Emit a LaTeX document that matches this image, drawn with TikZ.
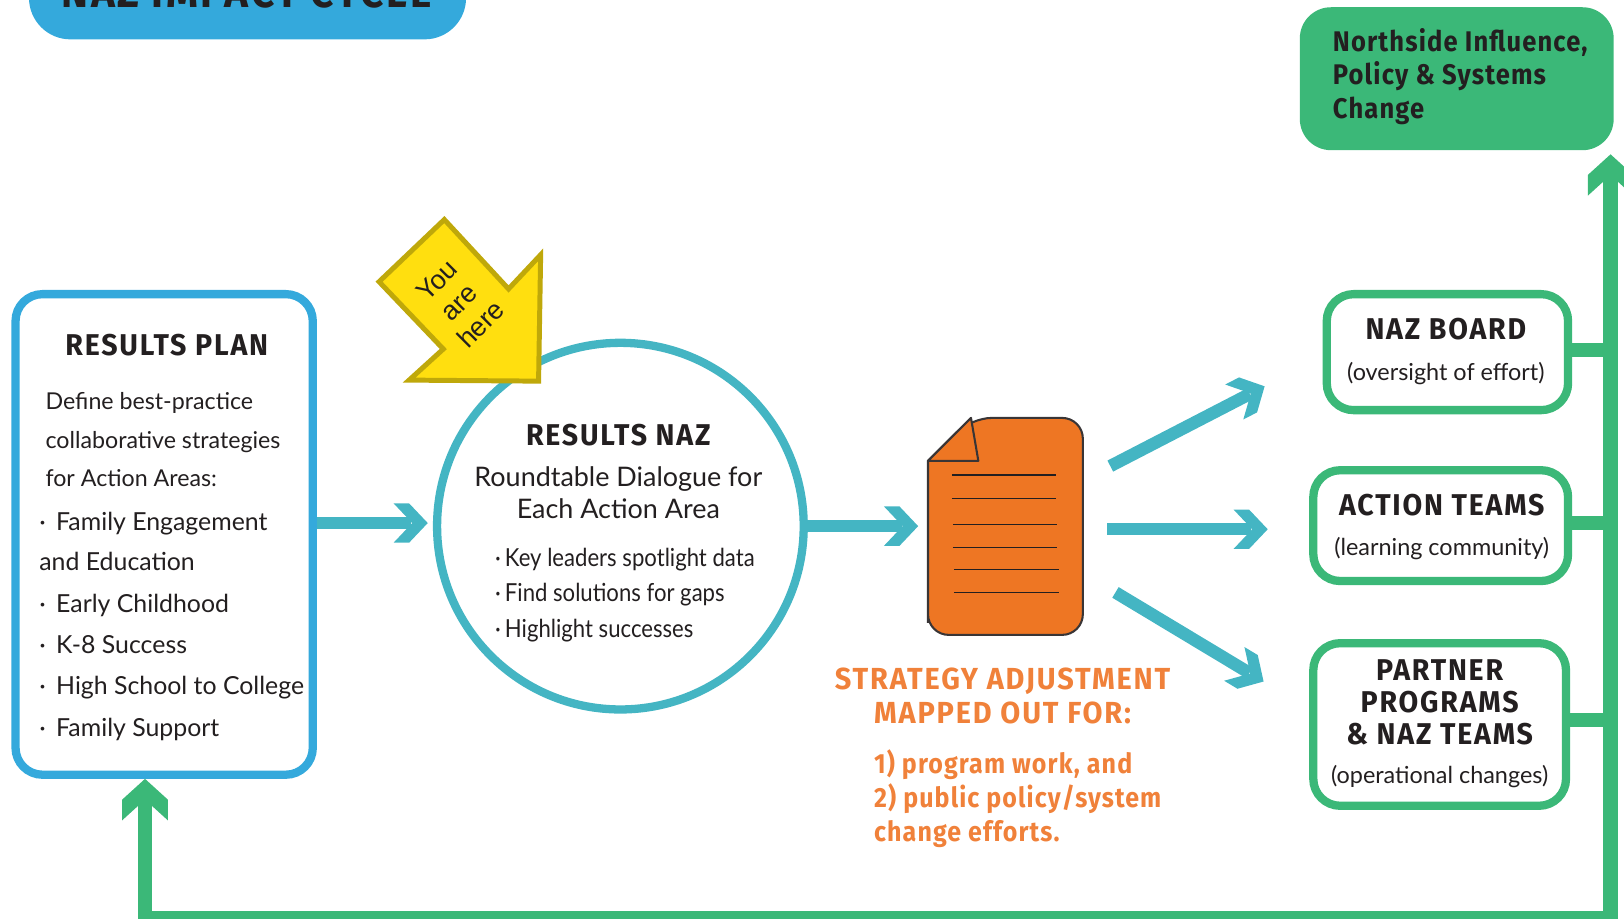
\documentclass[tikz,border=0pt]{standalone}
\usepackage{fontspec}
\setmainfont{Lato}
\newfontfamily\narrowf[FakeStretch=0.89]{Lato}
\newfontfamily\headf[FakeStretch=0.9,LetterSpace=4]{Fira Sans}
\newfontfamily\headw[FakeStretch=0.95,LetterSpace=6]{Fira Sans}
\newfontfamily\youf{Liberation Sans}
\usetikzlibrary{arrows.meta}
\definecolor{planblue}{HTML}{34A9DC}
\definecolor{flowteal}{HTML}{44B5C3}
\definecolor{loopgreen}{HTML}{3BB878}
\definecolor{docorange}{HTML}{EE7623}
\definecolor{txtorange}{HTML}{F0813A}
\definecolor{inkdark}{HTML}{231F20}
\definecolor{sunyellow}{HTML}{FFDF0F}
\definecolor{sunedge}{HTML}{BFA80A}
\pgfdeclarearrow{
  name=ChevT,
  setup code={\pgfarrowssettipend{0pt}\pgfarrowssetlineend{-8pt}\pgfarrowssetbackend{-16.5pt}\pgfarrowssetvisualbackend{-8pt}},
  drawing code={
    \pgfpathmoveto{\pgfpoint{0pt}{0pt}}
    \pgfpathlineto{\pgfpoint{-9pt}{9.5pt}}
    \pgfpathlineto{\pgfpoint{-16.5pt}{9.5pt}}
    \pgfpathlineto{\pgfpoint{-7.5pt}{0pt}}
    \pgfpathlineto{\pgfpoint{-16.5pt}{-9.5pt}}
    \pgfpathlineto{\pgfpoint{-9pt}{-9.5pt}}
    \pgfpathclose\pgfusepathqfill}
}
\pgfdeclarearrow{
  name=ChevG,
  setup code={\pgfarrowssettipend{0pt}\pgfarrowssetlineend{-10pt}\pgfarrowssetbackend{-20pt}\pgfarrowssetvisualbackend{-10pt}},
  drawing code={
    \pgfpathmoveto{\pgfpoint{0pt}{0pt}}
    \pgfpathlineto{\pgfpoint{-10pt}{11pt}}
    \pgfpathlineto{\pgfpoint{-20pt}{11pt}}
    \pgfpathlineto{\pgfpoint{-10pt}{0pt}}
    \pgfpathlineto{\pgfpoint{-20pt}{-11pt}}
    \pgfpathlineto{\pgfpoint{-10pt}{-11pt}}
    \pgfpathclose\pgfusepathqfill}
}
\tikzset{
  x=0.5pt,y=-0.5pt,
  every node/.style={inner sep=0pt,outer sep=0pt,text=inkdark},
  outlinebox/.style={draw=#1,line width=4pt,rounded corners=13pt,fill=white,outer sep=2pt},
  tealflow/.style={color=flowteal,line width=6pt,-ChevT},
  greenline/.style={color=loopgreen,line width=7pt},
  headtxt/.style={font=\headw\bfseries\fontsize{14.5}{15.6}\selectfont,align=center},
  subtxt/.style={font=\fontsize{11.3}{14}\selectfont,align=center,text height=8.5pt,text depth=2.5pt},
  bodytxt/.style={font=\fontsize{12}{15}\selectfont,align=left,text height=8.5pt,text depth=2.5pt},
  nartxt/.style={font=\narrowf\fontsize{12}{15}\selectfont,align=left,text height=8.5pt,text depth=2.5pt},
  orangehead/.style={font=\headw\bfseries\fontsize{14.7}{16}\selectfont,text=txtorange,align=center},
  docline/.style={draw=inkdark,line width=0.6pt},
}
\begin{document}
\begin{tikzpicture}
\useasboundingbox (0,0) rectangle (1568,887.3);
% top cut-off banner
\fill[planblue,rounded corners=20pt] (28,-60) rectangle (450,38);
\node[font=\headw\bfseries\fontsize{20.6}{22}\selectfont] (banner) at (238,-7) {NAZ IMPACT CYCLE};
% Northside box
\node[fill=loopgreen,rounded corners=15pt,minimum width=151.5pt,minimum height=69pt] (north) at (1406.5,76) {};
\node[anchor=west,align=left,font=\headf\bfseries\fontsize{13.7}{16}\selectfont] (northtxt) at (1287,74) {Northside Influence,\\Policy \& Systems\\Change};
% green loop
\coordinate (rightfoot) at (1555,887);
\coordinate (leftfoot) at (140,887);
\coordinate (plantip) at (140,752);
\coordinate (northtip) at (1555,149);
\draw[greenline,{ChevG}-{ChevG}] (plantip) -- (leftfoot) -- (rightfoot) -- (northtip);
% right boxes
\node[outlinebox=loopgreen,minimum width=116.5pt,minimum height=56pt] (board) at (1397.5,340) {};
\node[outlinebox=loopgreen,minimum width=123pt,minimum height=53.5pt] (teams) at (1391,507.5) {};
\node[outlinebox=loopgreen,minimum width=122pt,minimum height=78.5pt] (partner) at (1390,699.5) {};
\draw[greenline] (board.east |- 0,338) -- (rightfoot |- 0,338);
\draw[greenline] (teams.east |- 0,505) -- (rightfoot |- 0,505);
\draw[greenline] (partner.east |- 0,695) -- (rightfoot |- 0,695);
\node[headtxt] (boardh) at (1396,318) {NAZ BOARD};
\node[subtxt] (boards) at (1396,361) {(oversight of effort)};
\node[headtxt] (teamsh) at (1392,488) {ACTION TEAMS};
\node[subtxt] (teamss) at (1392,530) {(learning community)};
\node[headtxt] (partnerh) at (1390,678) {PARTNER\\PROGRAMS\\\& NAZ TEAMS};
\node[subtxt] (partners) at (1390,750) {(operational changes)};
% results plan
\node[outlinebox=planblue,minimum width=143.5pt,minimum height=232pt] (plan) at (158.5,516) {};
\node[headtxt] (planh) at (161,333) {RESULTS PLAN};
\node[anchor=west,align=left,font=\fontsize{11.2}{15}\selectfont] (plan1) at (44,424.5) {Define best-practice\\[3.5pt]collaborative strategies\\[3.5pt]for Action Areas:};
\node[bodytxt,anchor=west] (plan2) at (38,506) {·\hspace{5pt}Family Engagement};
\node[bodytxt,anchor=west] (plan3) at (38,545) {and Education};
\node[bodytxt,anchor=west] (plan4) at (38,585) {·\hspace{5pt}Early Childhood};
\node[bodytxt,anchor=west] (plan5) at (38,625) {·\hspace{5pt}K-8 Success};
\node[bodytxt,anchor=west] (plan6) at (38,664.5) {·\hspace{5pt}High School to College};
\node[bodytxt,anchor=west] (plan7) at (38,705) {·\hspace{5pt}Family Support};
% circle
\node[circle,draw=flowteal,line width=4pt,fill=white,minimum size=177pt,outer sep=2pt] (naz) at (599,508) {};
\node[headtxt] (nazh) at (597,420) {RESULTS NAZ};
\node[font=\fontsize{13}{15.5}\selectfont,align=center] (nazs) at (597,475.5) {Roundtable Dialogue for\\Each Action Area};
\node[nartxt,anchor=west] (naz1) at (478,540.5) {·\hspace{2pt}Key leaders spotlight data};
\node[nartxt,anchor=west] (naz2) at (478,574.5) {·\hspace{2pt}Find solutions for gaps};
\node[nartxt,anchor=west] (naz3) at (478,609.5) {·\hspace{2pt}Highlight successes};
% you are here arrow
\coordinate (ya) at (429,212);
\filldraw[fill=sunyellow,draw=sunedge,line width=2.4pt,miter limit=6]
  (ya) -- (491,279) -- (522,246) -- (520,368) -- (395,367) -- (428,337) -- (366,272) -- cycle;
\node[font=\youf\fontsize{13}{15}\selectfont,rotate=45,align=center] (you) at (443,292) {You\\are\\here};
% document
\node[minimum width=75pt,minimum height=105pt] (doc) at (970.5,508) {};
\filldraw[fill=docorange,draw=inkdark!90,line width=1pt,rounded corners=10pt]
  (896,613) -- (1045.5,613) -- (1045.5,403.5) -- (937.5,403.5) [sharp corners] -- (896,445) -- (896,520) [rounded corners=10pt] -- (896,613) -- cycle;
\filldraw[fill=docorange,draw=inkdark!90,line width=1pt,line join=round] (937.5,403.5) -- (944.6,445) -- (896,445) -- cycle;
\draw[docline] (919,458.6) -- (1019.6,458.6);
\draw[docline] (919,481) -- (1019.6,481);
\draw[docline] (920,506.3) -- (1020.6,506.3);
\draw[docline] (920,528.8) -- (1020.6,528.8);
\draw[docline] (921,549.7) -- (1022,549.7);
\draw[docline] (921,571.8) -- (1022,571.8);
% teal arrows
\coordinate (t1s) at (1072,450);
\coordinate (t1e) at (1221,373);
\coordinate (t2s) at (1069,511);
\coordinate (t2e) at (1224,511);
\coordinate (t3s) at (1077,572);
\coordinate (t3e) at (1220,658);
\draw[tealflow] (plan.east |- 0,505) -- ([xshift=-2.5pt]naz.west |- 0,505);
\draw[tealflow] (naz.east) -- ([xshift=-4.5pt]doc.west);
\draw[tealflow] (t1s) -- (t1e);
\draw[tealflow] (t2s) -- (t2e);
\draw[tealflow] (t3s) -- (t3e);
% orange text
\node[orangehead] (st) at (968,672) {STRATEGY ADJUSTMENT\\MAPPED OUT FOR:};
\node[align=left,anchor=west,text=txtorange,font=\headf\bfseries\fontsize{13.4}{16.5}\selectfont] (so) at (844,771) {1) program work, and\\2) public policy/system\\change efforts.};
\end{tikzpicture}
\end{document}
